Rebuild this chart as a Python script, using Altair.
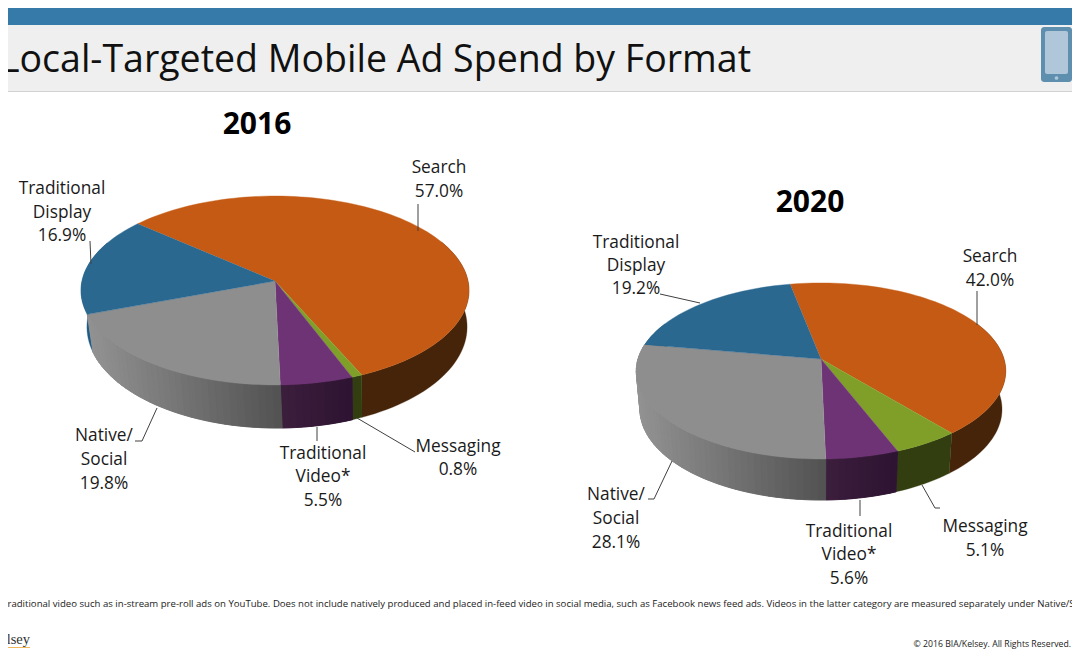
import math
import altair as alt
import pandas as pd

alt.data_transformers.disable_max_rows()

# ---- values
categories = ["Search", "Messaging", "Traditional Video", "Native/Social", "Traditional Display"]
shares_2016 = [57.0, 0.8, 5.5, 19.8, 16.9]
shares_2020 = [42.0, 5.1, 5.6, 28.1, 19.2]

top_colors = ["#c55a14", "#7f9f28", "#6e3375", "#8e8e8e", "#2b6890"]
wall_from = ["#45240a", "#323e10", "#3c1d3d", "#939393", "#1d5c84"]
wall_to = ["#45240a", "#323e10", "#2d1431", "#525252", "#1d5c84"]

title_text = "Local-Targeted Mobile Ad Spend by Format"
footnote = ("*Includes traditional video such as in-stream pre-roll ads on YouTube. Does not include natively "
            "produced and placed in-feed video in social media, such as Facebook news feed ads. Videos in the "
            "latter category are measured separately under Native/Social.")
copyright_text = "\u00a9 2016 BIA/Kelsey. All Rights Reserved."

# ---- pie geometry (apex, radii, perspective, first-slice angle, wall)
pie_2016 = dict(ax=275, ay=281, A=193, B=93.5, k=0.1005, start=-49.3, sx=0.98, sy=1.07, d0=35.8, dx=2.0)
pie_2020 = dict(ax=821, ay=359, A=183, B=86.4, k=0.136, start=-11.0, sx=0.98, sy=1.03, d0=38.0, dx=0.0)

labels = [
    (439, 168, "Search"), (439, 192, "57.0%"),
    (62, 189, "Traditional"), (62, 213, "Display"), (62, 236, "16.9%"),
    (104, 436, "Native/"), (104, 460, "Social"), (104, 484, "19.8%"),
    (323, 454, "Traditional"), (323, 477, "Video*"), (323, 501, "5.5%"),
    (458, 447, "Messaging"), (458, 470, "0.8%"),
    (990, 257, "Search"), (990, 281, "42.0%"),
    (636, 243, "Traditional"), (636, 266, "Display"), (636, 289, "19.2%"),
    (616, 495, "Native/"), (616, 519, "Social"), (616, 543, "28.1%"),
    (849, 532, "Traditional"), (849, 555, "Video*"), (849, 579, "5.6%"),
    (985, 527, "Messaging"), (985, 551, "5.1%"),
]
leaders = [
    [(418, 204), (418, 231)],
    [(90, 241), (91, 264)],
    [(157, 408), (142, 441), (135, 441)],
    [(317, 427), (317, 441)],
    [(357, 418), (415, 452)],
    [(977, 291), (977, 325)],
    [(660, 294), (700, 303)],
    [(672, 461), (654, 499), (648, 499)],
    [(860, 500), (860, 516)],
    [(922, 485), (935, 508), (940, 508)],
]


def hex2rgb(c):
    return [int(c[i:i + 2], 16) for i in (1, 3, 5)]


def mix(c1, c2, t):
    a, b = hex2rgb(c1), hex2rgb(c2)
    return "#" + "".join(f"{round(p + (q - p) * t):02x}" for p, q in zip(a, b))


def rim(p, deg):
    r = math.radians(deg)
    u, v = math.sin(r), -math.cos(r)
    w = 1 - p["k"] * v
    return p["ax"] + p["A"] * u / w, p["ay"] + p["B"] * v / w, v


def base(p, x, y):
    return (p["ax"] + p["dx"] + (x - p["ax"]) * p["sx"],
            p["ay"] + (y - p["ay"]) * p["sy"] + p["d0"])


def angle_steps(a0, a1, step=2.0):
    n = max(1, math.ceil((a1 - a0) / step))
    return [a0 + (a1 - a0) * i / n for i in range(n + 1)]


under_rows, wall_rows, top_rows = [], [], []
for name, shares, p in (("a", shares_2016, pie_2016), ("b", shares_2020, pie_2020)):
    a = p["start"]
    strips = []
    for idx, share in enumerate(shares):
        a1 = a + share * 3.6
        steps = angle_steps(a, a1)
        # top face
        poly = [(p["ax"], p["ay"])] + [rim(p, s)[:2] for s in steps]
        for j, (x, y) in enumerate(poly):
            top_rows.append(dict(id=f"{name}{idx}", seq=j, x=x, y=y, c=top_colors[idx]))
        # wall: one solid face, then vertical shading bands where the colour changes
        front = [s for s in steps if rim(p, s)[2] > -0.45]
        if len(front) > 1:
            upper = [rim(p, s)[:2] for s in front]
            lower = [base(p, x, y) for x, y in upper]
            outline = upper + lower[::-1] + upper[:1]
            col = mix(wall_from[idx], wall_to[idx], 0.5)
            for j, (x, y) in enumerate(outline):
                under_rows.append(dict(id=f"{name}{idx}", seq=j, x=x, y=y, c=col))
            if wall_from[idx] != wall_to[idx]:
                xs = [pt[0] for pt in upper]
                lo, hi = min(xs), max(xs)
                for s0, s1 in zip(front[:-1], front[1:]):
                    x0, y0, v0 = rim(p, s0)
                    x1, y1, v1 = rim(p, s1)
                    t = max(0, min(1, ((x0 + x1) / 2 - lo) / max(hi - lo, 1)))
                    strips.append(((v0 + v1) / 2,
                                   [(x0, y0), (x1, y1), base(p, x1, y1), base(p, x0, y0)],
                                   mix(wall_from[idx], wall_to[idx], t)))
        a = a1
    strips.sort(key=lambda r: r[0])
    for k, (_, quad, col) in enumerate(strips):
        for j, (x, y) in enumerate(quad + quad[:1]):
            wall_rows.append(dict(id=f"{name}{k:04d}", seq=j, x=x, y=y, c=col))

X = alt.Scale(domain=[8, 1072], range=[0, 1064])
Y = alt.Scale(domain=[8, 650], range=[0, 642])
xq = alt.X("x:Q", scale=X, axis=None)
yq = alt.Y("y:Q", scale=Y, axis=None)


def faces(rows, sw):
    return alt.Chart(pd.DataFrame(rows)).mark_line(strokeWidth=sw, interpolate="linear", strokeJoin="round").encode(
        x=xq, y=yq,
        order=alt.Order("seq:Q"),
        detail="id:N",
        fill=alt.Fill("c:N", scale=None),
        stroke=alt.Stroke("c:N", scale=None),
    )


def rects(rows):
    return alt.Chart(pd.DataFrame(rows, columns=["x", "x2", "y", "y2", "c", "r"]))


bands = rects([
    (8, 1072, 8, 25, "#357aa9", 0),
    (8, 1072, 25, 91, "#efefef", 0),
    (8, 1072, 91, 92, "#d2d2d2", 0),
]).mark_rect().encode(x=xq, x2="x2:Q", y=yq, y2="y2:Q", fill=alt.Fill("c:N", scale=None))

phone_body = rects([(1041, 1072, 27, 82, "#5f8fae", 3)]).mark_rect(cornerRadius=3).encode(
    x=xq, x2="x2:Q", y=yq, y2="y2:Q", fill=alt.Fill("c:N", scale=None))
phone_screen = rects([(1045, 1068, 31, 74, "#afc7d8", 2)]).mark_rect(cornerRadius=2).encode(
    x=xq, x2="x2:Q", y=yq, y2="y2:Q", fill=alt.Fill("c:N", scale=None))
phone_button = alt.Chart(pd.DataFrame({"x": [1056.5], "y": [78]})).mark_circle(size=14, color="#afc7d8", opacity=1).encode(x=xq, y=yq)
logo_line = rects([(8, 30, 647, 648, "#f5b75c", 0)]).mark_rect().encode(
    x=xq, x2="x2:Q", y=yq, y2="y2:Q", fill=alt.Fill("c:N", scale=None))

lead_rows = []
for i, pts in enumerate(leaders):
    for j, (x, y) in enumerate(pts):
        lead_rows.append(dict(id=i, seq=j, x=x, y=y))
lead = alt.Chart(pd.DataFrame(lead_rows)).mark_line(color="#404040", strokeWidth=1).encode(
    x=xq, y=yq, order=alt.Order("seq:Q"), detail="id:N")


def text_layer(rows, **kw):
    df = pd.DataFrame(rows, columns=["x", "y", "t"])
    base_kw = dict(font="Open Sans", baseline="middle", color="#1a1a1a")
    base_kw.update(kw)
    return alt.Chart(df).mark_text(**base_kw).encode(x=xq, y=yq, text="t:N")


label_text = text_layer(labels, fontSize=17.3, align="center")
years = text_layer([(257, 125, "2016"), (810, 203, "2020")], fontSize=30, fontWeight="bold", align="center", color="#000000")
title = text_layer([(751, 61, title_text)], fontSize=37.5, align="right", color="#111111")
foot = text_layer([(-41, 604, footnote)], fontSize=9.6, align="left", color="#222222")
copy_t = text_layer([(1071, 644, copyright_text)], fontSize=8.7, align="right", color="#222222")
logo = text_layer([(30, 640, "BIA/Kelsey")], fontSize=14.5, align="right", font="Liberation Serif", color="#333333")

chart = alt.layer(
    bands, phone_body, phone_screen, phone_button,
    faces(under_rows, 0.3), faces(wall_rows, 0.9), faces(top_rows, 0.4), lead,
    label_text, years, title, foot, copy_t, logo, logo_line,
).properties(
    width=1064, height=642, padding=0,
    autosize=alt.AutoSizeParams(type="none"),
    background="#ffffff",
).configure_view(stroke=None)

chart.save("out.html", embed_options={"renderer": "svg", "actions": False})
